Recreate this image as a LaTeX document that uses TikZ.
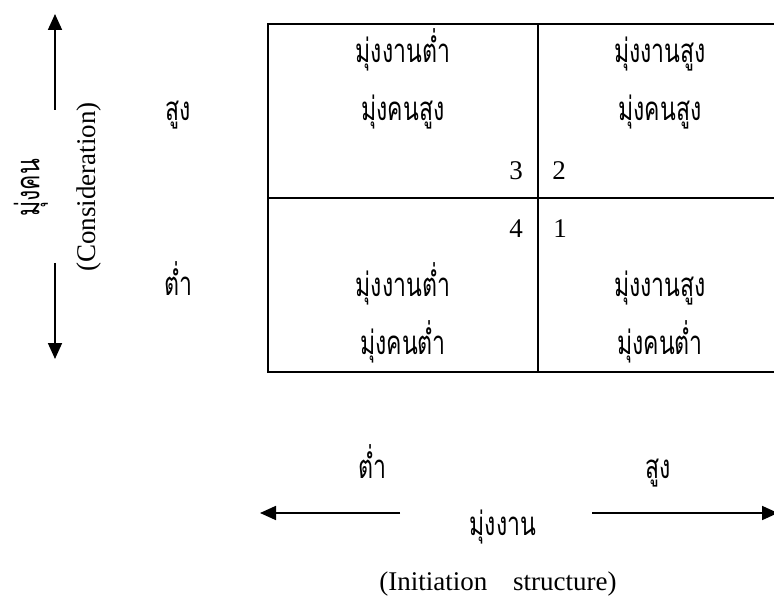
\documentclass[tikz,border=0pt]{standalone}
\usepackage{fontspec}
\setmainfont{Liberation Serif}
\newfontfamily\thaifont[Script=Thai,FakeStretch=0.7]{Loma}
\usetikzlibrary{arrows.meta}
\tikzset{
  th/.style={font=\thaifont\fontsize{33}{38}\selectfont, inner sep=0pt, anchor=base},
  lat/.style={font=\fontsize{27}{32}\selectfont, inner sep=0pt, anchor=base},
  ln/.style={line width=1.8pt},
  arr/.style={line width=1.8pt, -{Triangle[length=16pt,width=14pt]}}
}
\begin{document}
\begin{tikzpicture}[x=1pt,y=-1pt]
\useasboundingbox (0,0) rectangle (774,596);
\clip (0,0) rectangle (774,596);
% vertical axis
\coordinate (vtop) at (55,14);
\coordinate (vup) at (55,110);
\coordinate (vlo) at (55,263);
\coordinate (vbot) at (55,359);
\draw[arr] (vup) -- (vtop);
\draw[arr] (vlo) -- (vbot);
\node[th, rotate=90, anchor=center] (khon) at (31,188) {มุ่งคน};
\node[lat, rotate=90, anchor=center] (cons) at (89,187) {(Consideration)};
\node[th] (vhigh) at (178,121) {สูง};
\node[th] (vlow) at (178,295) {ต่ำ};
% table
\coordinate (tl) at (268,24);
\coordinate (br) at (808,372);
\draw[ln] (tl) rectangle (br);
\coordinate (mt) at (538,24);
\coordinate (mb) at (538,372);
\coordinate (ml) at (268,198);
\coordinate (mr) at (808,198);
\draw[ln] (mt) -- (mb);
\draw[ln] (ml) -- (mr);
\node[th] (a1) at (403,63) {มุ่งงานต่ำ};
\node[th] (a2) at (403,121) {มุ่งคนสูง};
\node[th] (b1) at (660,63) {มุ่งงานสูง};
\node[th] (b2) at (660,121) {มุ่งคนสูง};
\node[th] (c1) at (403,297) {มุ่งงานต่ำ};
\node[th] (c2) at (403,354) {มุ่งคนต่ำ};
\node[th] (d1) at (660,297) {มุ่งงานสูง};
\node[th] (d2) at (660,354) {มุ่งคนต่ำ};
\node[lat] (n3) at (516,180) {3};
\node[lat] (n2) at (559,180) {2};
\node[lat] (n4) at (516,238) {4};
\node[lat] (n1) at (560,238) {1};
% horizontal axis
\node[th] (hlow) at (372,478) {ต่ำ};
\node[th] (hhigh) at (658,478) {สูง};
\coordinate (hl) at (400,513);
\coordinate (hltip) at (260,513);
\coordinate (hr) at (592,513);
\coordinate (hrtip) at (778,513);
\draw[arr] (hl) -- (hltip);
\draw[arr] (hr) -- (hrtip);
\node[th] (ngan) at (503,535) {มุ่งงาน};
\node[lat] (init) at (498,590) {(Initiation\hspace{0.95em}structure)};
\end{tikzpicture}
\end{document}
